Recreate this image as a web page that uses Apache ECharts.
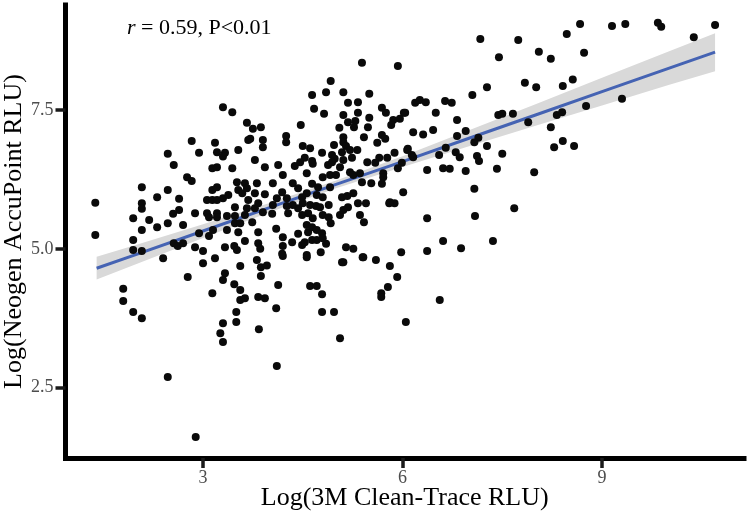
<!DOCTYPE html>
<html><head><meta charset="utf-8">
<script src="https://cdn.jsdelivr.net/npm/echarts@6/dist/echarts.min.js"></script>
<style>html,body{margin:0;padding:0;background:#fff}#c{width:750px;height:515px}</style>
</head><body><div id="c"></div>
<script>
// scatter points: x = Log(3M Clean-Trace RLU), y = Log(Neogen AccuPoint RLU)
const xs = [
1.38,1.38,3.30,3.44,3.66,3.68,2.83,3.18,2.94,3.21,3.33,3.30,3.53,2.47,2.56,3.44,3.14,3.21,2.76,2.83,
3.51,3.63,2.08,2.47,3.14,3.21,3.53,3.59,2.31,2.64,3.06,3.14,3.21,3.30,3.38,3.68,2.08,2.08,2.64,2.55,
2.88,3.06,3.21,3.48,3.66,1.95,2.19,3.09,3.21,3.36,3.48,2.47,2.70,2.31,2.08,2.94,3.09,3.15,3.36,3.48,
3.56,3.53,3.63,1.95,2.56,2.62,2.70,2.88,3.00,3.33,3.47,3.51,1.95,2.08,2.40,3.18,
3.00,3.56,2.77,3.33,3.30,3.47,3.56,3.14,3.56,3.63,1.80,1.80,1.95,2.08,3.50,3.50,3.30,3.26,3.30,2.47,
2.89,3.81,3.87,3.96,3.87,3.83,3.93,4.13,4.10,3.84,4.11,4.61,4.71,4.79,4.79,4.97,5.06,5.09,5.40,4.56,4.20,
3.83,3.83,3.86,3.74,4.10,4.20,4.20,4.19,4.34,4.43,4.49,4.56,4.53,4.64,4.71,4.85,4.77,4.56,4.58,4.64,
4.71,4.79,4.80,4.65,4.58,4.70,4.76,4.61,4.80,4.89,4.92,4.89,4.49,4.28,4.43,4.50,4.04,3.90,3.78,3.63,
5.06,5.11,5.18,5.36,5.42,5.33,5.45,5.80,5.88,5.15,5.26,5.11,5.41,5.60,5.81,5.98,5.92,5.78,5.68,5.68,6.05,
5.39,5.93,4.92,4.85,4.64,5.11,5.50,5.18,5.33,4.67,4.82,5.11,5.33,5.69,5.75,6.02,5.18,5.29,5.50,5.86,
5.96,5.83,3.75,3.87,4.47,5.05,5.27,5.48,3.71,3.90,3.90,4.25,4.25,5.11,5.42,5.69,5.74,5.62,4.50,4.61,
4.97,5.11,5.15,5.21,5.32,6.07,5.09,4.79,4.94,4.53,4.64,4.98,5.11,5.24,5.65,5.77,5.88,3.78,3.93,4.13,
4.38,4.46,4.65,4.88,4.94,5.06,5.47,5.59,5.99,5.93,4.20,4.56,4.80,4.91,5.00,5.21,5.26,5.36,5.71,5.71,
3.81,3.66,4.05,4.35,4.64,4.73,4.91,5.39,5.53,5.69,3.78,3.93,4.19,4.43,4.56,5.26,6.01,4.11,4.26,4.49,
4.71,4.80,5.09,5.17,3.83,4.05,4.26,4.35,5.81,
8.23,7.45,7.84,8.01,8.41,7.27,7.05,6.19,6.26,6.35,6.64,6.74,6.04,6.50,6.82,7.44,7.66,7.89,8.32,8.40,
8.23,6.16,6.31,6.46,6.95,6.82,7.14,7.08,7.27,8.41,8.28,6.08,6.14,6.16,6.65,6.55,6.80,6.86,7.12,7.15,
7.50,6.37,6.61,6.71,6.95,7.42,7.98,7.08,7.68,6.37,7.09,
8.67,9.15,9.35,9.84,9.89,10.70,10.38,8.47,8.73,7.17,7.74,8.05,8.56,9.30,8.76,8.58,7.36,6.88,6.61,6.37,6.56,7.50
];
const ys = [
5.83,5.25,7.55,7.46,7.27,6.96,6.94,6.91,6.73,6.74,6.73,6.66,6.78,6.71,6.51,6.45,6.45,6.47,6.29,6.22,
6.20,6.18,6.11,6.06,6.06,6.11,6.06,6.00,5.93,5.90,5.88,5.88,5.88,5.91,5.97,5.88,5.82,5.72,5.70,5.63,
5.64,5.64,5.64,5.75,5.73,5.55,5.52,5.57,5.57,5.59,5.59,5.46,5.43,5.39,5.34,5.28,5.23,5.34,5.34,5.46,
5.46,5.30,5.14,5.16,5.10,5.05,5.10,5.03,4.96,5.03,5.05,4.98,4.98,4.96,4.83,4.83,
4.74,4.69,4.49,4.56,4.44,4.36,4.26,4.20,4.08,4.11,4.28,4.06,3.86,3.75,3.86,3.68,3.66,3.48,3.32,2.69,
1.61,4.80,4.67,4.70,4.51,4.13,4.11,4.35,3.93,3.55,2.89,4.33,4.33,4.18,3.86,3.86,3.39,4.76,4.85,4.85,4.87,
5.30,5.10,5.00,5.48,5.36,5.21,5.05,4.91,5.12,5.27,5.07,4.89,5.12,5.16,5.16,5.09,4.94,5.43,5.30,5.39,
5.34,5.28,5.19,5.55,5.64,5.77,5.75,5.79,5.61,5.57,5.46,5.79,5.61,5.64,5.73,5.82,5.63,5.66,5.73,5.61,
5.61,5.70,5.75,5.61,5.48,5.82,5.82,5.82,5.82,5.03,5.00,4.76,4.85,4.80,4.69,4.94,4.49,4.31,4.20,4.13,3.68,
8.35,8.29,8.02,7.82,7.77,7.82,7.79,7.63,7.64,7.52,7.43,7.41,7.45,7.54,7.45,7.45,7.28,7.30,7.36,7.32,
7.34,7.23,7.16,7.19,7.23,7.18,7.19,7.19,6.98,6.96,6.83,7.03,6.92,7.01,7.01,7.05,6.98,6.91,6.85,6.81,
6.87,6.92,6.85,6.78,6.78,6.78,6.74,6.73,6.69,6.64,6.58,6.62,6.60,6.64,6.64,6.64,6.73,6.60,6.47,6.51,
6.49,6.56,6.53,6.51,6.56,6.47,6.56,6.55,6.55,6.45,6.33,6.36,6.29,6.33,6.33,6.38,6.33,6.36,6.36,6.29,
6.18,6.09,6.18,6.18,6.17,6.11,6.11,6.20,6.18,6.17,6.00,5.98,6.02,6.09,6.00,6.00,6.02,5.91,5.91,5.93,
5.97,5.93,5.93,5.95,5.82,5.79,5.77,5.79,5.84,
8.42,8.45,7.99,7.91,7.93,7.91,7.77,7.63,7.68,7.64,7.66,7.63,7.45,7.45,7.32,7.41,7.43,7.28,7.41,7.46,
7.19,7.10,7.06,7.14,7.12,7.03,7.00,6.92,6.85,6.94,6.83,6.80,6.69,6.65,6.82,6.69,6.74,6.65,6.67,6.58,
6.71,6.42,6.45,6.44,6.40,6.44,6.38,6.08,5.73,5.55,5.59,
9.05,9.01,9.05,9.07,9.00,9.03,8.81,8.87,8.53,8.78,8.76,8.55,8.05,7.70,7.57,6.85,5.14,5.01,5.14,4.96,4.08,7.43
];
// fitted regression line and its 95% confidence half-width
const fitX = [1.4, 2, 3, 4, 5, 6, 7, 8, 9, 10, 10.7];
const fitY = [4.65, 4.90, 5.32, 5.74, 6.16, 6.57, 6.99, 7.41, 7.83, 8.25, 8.54];
const ciHalf = [0.205, 0.173, 0.124, 0.083, 0.071, 0.097, 0.143, 0.194, 0.248, 0.302, 0.341];
const xTicks = [3, 6, 9];
const yTicks = [2.5, 5.0, 7.5];
const annotation = '{i|r} = 0.59, P<0.01';

const serif = "'Liberation Serif', 'DejaVu Serif', serif";
const points = xs.map((x, i) => [x, ys[i]]);
const fitData = fitX.map((x, i) => [x, fitY[i]]);

const chart = echarts.init(document.getElementById('c'), null, {renderer: 'canvas'});
const axisCommon = {
  axisLine: {show: true, onZero: false, lineStyle: {color: '#000', width: 5, cap: 'square'}},
  axisTick: {show: true, length: 10, lineStyle: {color: '#1a1a1a', width: 3.5}},
  splitLine: {show: false},
  nameLocation: 'middle',
  nameMoveOverlap: false,
  nameTextStyle: {fontFamily: serif, fontSize: 26, color: '#000'}
};
chart.setOption({
  animation: false,
  backgroundColor: '#fff',
  title: {
    text: annotation, left: 122, top: 12,
    textStyle: {fontFamily: serif, fontSize: 22, fontWeight: 'normal', color: '#000',
      rich: {i: {fontFamily: serif, fontSize: 22, fontStyle: 'italic', color: '#000'}}}
  },
  grid: {left: 65.5, right: 6, top: 5, bottom: 57, containLabel: false, outerBoundsMode: 'none'},
  xAxis: Object.assign({}, axisCommon, {
    type: 'value', min: 0.932, max: 11.135,
    name: 'Log(3M Clean-Trace RLU)', nameGap: 27,
    axisTick: Object.assign({}, axisCommon.axisTick, {customValues: xTicks}),
    axisLabel: {customValues: xTicks, fontFamily: serif, fontSize: 18, color: '#4d4d4d', margin: 11,
      formatter: v => String(v)}
  }),
  yAxis: Object.assign({}, axisCommon, {
    type: 'value', min: 1.233, max: 9.39,
    name: 'Log(Neogen AccuPoint RLU)', nameGap: 38,
    axisTick: Object.assign({}, axisCommon.axisTick, {customValues: yTicks}),
    axisLabel: {customValues: yTicks, fontFamily: serif, fontSize: 18, color: '#4d4d4d', margin: 12,
      formatter: v => Number(v).toFixed(1)}
  }),
  series: [
    {
      type: 'custom', silent: true, z: 1,
      data: fitData,
      renderItem: (params, api) => {
        if (params.dataIndex !== 0) return null;
        const pts = [];
        for (let i = 0; i < fitX.length; i++) pts.push(api.coord([fitX[i], fitY[i] + ciHalf[i]]));
        for (let i = fitX.length - 1; i >= 0; i--) pts.push(api.coord([fitX[i], fitY[i] - ciHalf[i]]));
        return {type: 'polygon', shape: {points: pts, smooth: 0}, style: {fill: '#d9d9d9'}};
      }
    },
    {
      type: 'line', data: fitData, showSymbol: false, symbol: 'none', silent: true, z: 2,
      lineStyle: {color: '#4563b3', width: 3}
    },
    {
      type: 'scatter', data: points, symbolSize: 8, z: 3,
      itemStyle: {color: '#0a0a0a', opacity: 1}
    }
  ]
});
</script>
</body></html>
